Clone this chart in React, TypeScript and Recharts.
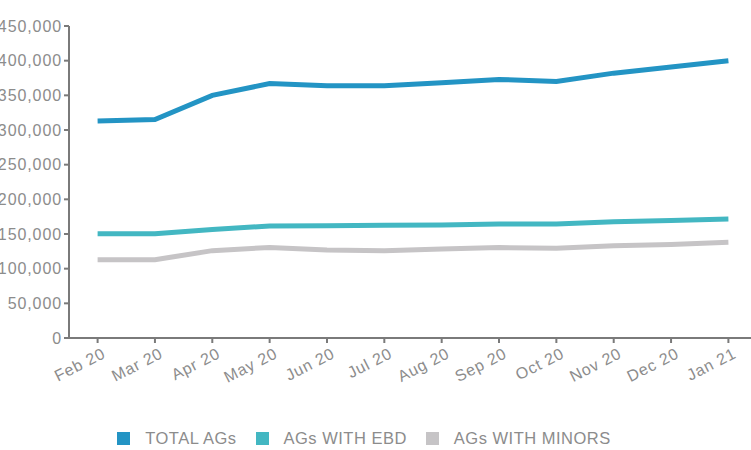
import React from "react";
import { LineChart, Line, XAxis, YAxis, Legend } from "recharts";

const months = ["Feb 20", "Mar 20", "Apr 20", "May 20", "Jun 20", "Jul 20", "Aug 20", "Sep 20", "Oct 20", "Nov 20", "Dec 20", "Jan 21"];
const totalAGs = [313000, 315000, 350000, 367000, 364000, 364000, 368000, 373000, 370000, 382000, 391000, 400000];
const agsWithEBD = [150500, 150500, 156500, 161500, 162000, 162500, 163000, 164500, 164500, 167500, 169500, 171500];
const agsWithMinors = [113000, 113000, 126000, 130500, 127000, 126000, 128500, 130500, 129500, 133000, 135000, 138000];
const yTicks = [0, 50000, 100000, 150000, 200000, 250000, 300000, 350000, 400000, 450000];

const series = [
  { key: "total", name: "TOTAL AGs", color: "#2394c4" },
  { key: "ebd", name: "AGs WITH EBD", color: "#43b7c2" },
  { key: "minors", name: "AGs WITH MINORS", color: "#c6c4c6" },
];

const data = months.map((m, i) => ({
  month: m,
  total: totalAGs[i],
  ebd: agsWithEBD[i],
  minors: agsWithMinors[i],
}));

const FONT = "'Liberation Sans', Arial, sans-serif";
const TEXT = "#8c8c8c";
const AXIS = "#7a7a7a";

const XTick = ({ x, y, payload }: { x?: number; y?: number; payload?: { value: string } }) => (
  <g transform={`translate(${(x ?? 0) + 9},${(y ?? 0) + 14})`}>
    <text
      textAnchor="end"
      transform="rotate(-27)"
      fill={TEXT}
      fontSize={16}
      fontFamily={FONT}
      letterSpacing={0.8}
    >
      {payload?.value}
    </text>
  </g>
);

const LegendContent = () => (
  <div style={{ display: "flex", justifyContent: "center", alignItems: "center", fontFamily: FONT }}>
    {series.map((s, i) => (
      <div key={s.key} style={{ display: "flex", alignItems: "center", marginRight: i < series.length - 1 ? 19 : 0 }}>
        <div style={{ width: 13, height: 13, background: s.color, marginRight: 15 }} />
        <span style={{ color: TEXT, fontSize: 16.5, letterSpacing: 0.5 }}>{s.name}</span>
      </div>
    ))}
  </div>
);

export default function App() {
  return (
    <div style={{ position: "absolute", left: 0, top: 0, width: 751, height: 450, overflow: "hidden", background: "#fff" }}>
      <div style={{ position: "absolute", left: -20, top: 0 }}>
        <LineChart
          width={790}
          height={450}
          data={data}
          margin={{ top: 26, right: 13, left: 0, bottom: 0 }}
          style={{ fontFamily: FONT }}
        >
          <XAxis
            dataKey="month"
            height={112}
            padding={{ left: 28.6, right: 28.6 }}
            stroke={AXIS}
            strokeWidth={2}
            tickSize={5}
            tickMargin={0}
            tick={<XTick />}
            interval={0}
          />
          <YAxis
            width={89}
            domain={[0, 450000]}
            ticks={yTicks}
            stroke={AXIS}
            strokeWidth={2}
            tickSize={5}
            tickMargin={2}
            tick={{ fill: TEXT, fontSize: 16, fontFamily: FONT, letterSpacing: 0.9 }}
            tickFormatter={(v: number) => v.toLocaleString("en-US")}
          />
          <Legend
            layout="horizontal"
            verticalAlign="middle"
            align="center"
            content={<LegendContent />}
            wrapperStyle={{ position: "absolute", left: 4, top: 429, width: 760 }}
          />
          {series.map((s) => (
            <Line
              key={s.key}
              type="linear"
              dataKey={s.key}
              name={s.name}
              stroke={s.color}
              strokeWidth={5}
              dot={false}
              activeDot={false}
              isAnimationActive={false}
            />
          ))}
        </LineChart>
      </div>
    </div>
  );
}
